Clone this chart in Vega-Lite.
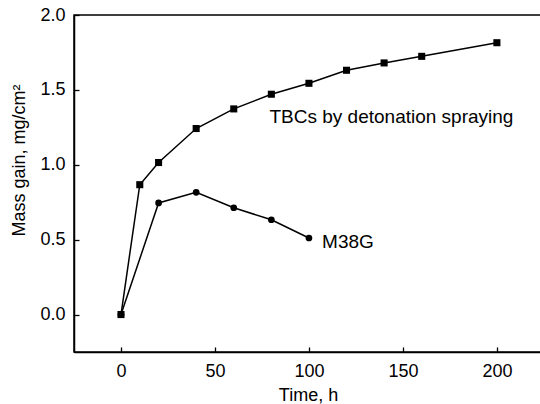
{
  "$schema": "https://vega.github.io/schema/vega-lite/v6.json",
  "width": 468,
  "height": 337,
  "autosize": {"type": "none"},
  "padding": {"left": 74, "top": 15, "right": 0, "bottom": 52},
  "background": "white",
  "config": {
    "font": "Liberation Sans",
    "view": {"stroke": "black", "strokeWidth": 1.5},
    "axis": {
      "grid": false,
      "domainColor": "black",
      "domainWidth": 1.5,
      "tickColor": "black",
      "tickWidth": 1.3,
      "labelFont": "Liberation Sans",
      "labelFontSize": 18,
      "labelColor": "black",
      "titleFont": "Liberation Sans",
      "titleFontSize": 18,
      "titleFontWeight": "normal",
      "titleColor": "black"
    }
  },
  "datasets": {
    "series": [
      {"series": "TBC", "time": 0, "gain": 0.0},
      {"series": "TBC", "time": 10, "gain": 0.867},
      {"series": "TBC", "time": 20, "gain": 1.015},
      {"series": "TBC", "time": 40, "gain": 1.242},
      {"series": "TBC", "time": 60, "gain": 1.373},
      {"series": "TBC", "time": 80, "gain": 1.471},
      {"series": "TBC", "time": 100, "gain": 1.544},
      {"series": "TBC", "time": 120, "gain": 1.631},
      {"series": "TBC", "time": 140, "gain": 1.68},
      {"series": "TBC", "time": 160, "gain": 1.724},
      {"series": "TBC", "time": 200, "gain": 1.815},
      {"series": "M38G", "time": 0, "gain": 0.0},
      {"series": "M38G", "time": 20, "gain": 0.745},
      {"series": "M38G", "time": 40, "gain": 0.816},
      {"series": "M38G", "time": 60, "gain": 0.713},
      {"series": "M38G", "time": 80, "gain": 0.633},
      {"series": "M38G", "time": 100, "gain": 0.511}
    ],
    "labels": [
      {"label": "TBCs by detonation spraying", "time": 79, "gain": 1.32},
      {"label": "M38G", "time": 107, "gain": 0.487}
    ]
  },
  "resolve": {"axis": {"x": "independent", "y": "independent"}},
  "layer": [
    {
      "data": {"name": "series"},
      "mark": {"type": "line", "color": "black", "strokeWidth": 1.5},
      "encoding": {
        "x": {
          "field": "time", "type": "quantitative",
          "scale": {"domain": [-25, 224], "nice": false, "zero": false},
          "axis": {"orient": "bottom", "values": [0, 50, 100, 150, 200], "ticks": false, "title": "Time, h", "labelPadding": 10, "titlePadding": 6}
        },
        "y": {
          "field": "gain", "type": "quantitative",
          "scale": {"domain": [-0.25, 2.0], "nice": false, "zero": false},
          "axis": {"orient": "left", "values": [0, 0.5, 1, 1.5, 2], "ticks": false, "format": ".1f", "title": "Mass gain, mg/cm²", "labelPadding": 9,
                   "titleX": -55, "titleY": 145, "titleAngle": -90, "titleAlign": "center", "titleBaseline": "middle"}
        },
        "detail": {"field": "series"}
      }
    },
    {
      "data": {"name": "series"},
      "mark": {"type": "point", "filled": true, "color": "black", "opacity": 1},
      "encoding": {
        "x": {"field": "time", "type": "quantitative",
              "axis": {"orient": "bottom", "values": [0, 50, 100, 150, 200], "offset": -5, "tickSize": 5, "domain": false, "labels": false, "title": null}},
        "y": {"field": "gain", "type": "quantitative",
              "axis": {"orient": "left", "values": [0, 0.5, 1, 1.5, 2], "offset": -5, "tickSize": 5, "domain": false, "labels": false, "title": null}},
        "shape": {"field": "series", "type": "nominal", "scale": {"domain": ["TBC", "M38G"], "range": ["square", "circle"]}, "legend": null},
        "size": {"field": "series", "type": "nominal", "scale": {"domain": ["TBC", "M38G"], "range": [50, 45]}, "legend": null}
      }
    },
    {
      "data": {"name": "labels"},
      "mark": {"type": "text", "align": "left", "baseline": "middle", "fontSize": 19, "font": "Liberation Sans", "color": "black"},
      "encoding": {
        "x": {"field": "time", "type": "quantitative", "axis": null},
        "y": {"field": "gain", "type": "quantitative", "axis": null},
        "text": {"field": "label"}
      }
    }
  ]
}
